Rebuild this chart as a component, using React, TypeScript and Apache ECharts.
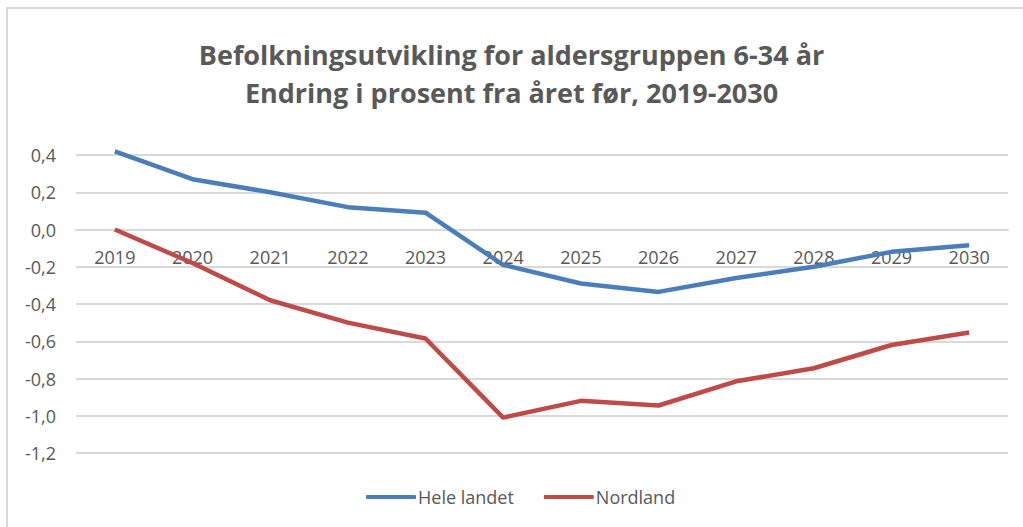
import React, { useEffect, useRef } from "react";
import * as echarts from "echarts";

const years = ["2019", "2020", "2021", "2022", "2023", "2024", "2025", "2026", "2027", "2028", "2029", "2030"];
const heleLandet = [0.42, 0.27, 0.2, 0.12, 0.09, -0.19, -0.29, -0.335, -0.26, -0.2, -0.12, -0.085];
const nordland = [0.0, -0.18, -0.38, -0.5, -0.585, -1.01, -0.92, -0.945, -0.815, -0.745, -0.62, -0.553];
const titleLines = ["Befolkningsutvikling for aldersgruppen 6-34 år", "Endring i prosent fra året før, 2019-2030"];

const FONT = "'Open Sans', 'Liberation Sans', sans-serif";
const TEXT = "#595959";
const GRID_TOP = 155;
const GRID_BOTTOM = 74;
const CHART_H = 527;

export default function App() {
  const ref = useRef<HTMLDivElement>(null);
  useEffect(() => {
    document.body.style.margin = "0";
    const chart = echarts.init(ref.current!, null, { renderer: "svg" });
    const yMin = -1.2;
    const yMax = 0.4;
    const plotH = CHART_H - GRID_TOP - GRID_BOTTOM;
    const zeroOffset = -(plotH * (0 - yMin)) / (yMax - yMin);
    chart.setOption({
      animation: false,
      backgroundColor: "#ffffff",
      title: {
        text: titleLines.join("\n"),
        left: "center",
        top: 30,
        textStyle: {
          fontFamily: FONT,
          fontWeight: "bold",
          fontSize: 27,
          color: TEXT,
          lineHeight: 38,
        },
      },
      graphic: [
        {
          type: "rect",
          shape: { x: 7, y: 8, width: 1100, height: 600 },
          style: { fill: "none", stroke: "#d9d9d9", lineWidth: 2 },
          silent: true,
        },
      ],
      legend: {
        bottom: 16,
        left: 361,
        itemWidth: 50,
        itemHeight: 4,
        itemGap: 30,
        icon: "roundRect",
        textStyle: { fontFamily: FONT, fontSize: 18, color: TEXT, padding: [0, 0, 0, -3] },
        data: ["Hele landet", "Nordland"],
      },
      grid: { left: 76, right: 15, top: GRID_TOP, bottom: GRID_BOTTOM, containLabel: false },
      xAxis: {
        type: "category",
        data: years,
        boundaryGap: true,
        offset: zeroOffset,
        axisLine: { onZero: false, lineStyle: { color: "#d9d9d9", width: 2 } },
        axisTick: { show: false },
        axisLabel: { fontFamily: FONT, fontSize: 18, color: TEXT, margin: 18 },
      },
      yAxis: {
        type: "value",
        min: yMin,
        max: yMax,
        interval: 0.2,
        axisLine: { show: false },
        axisTick: { show: false },
        splitLine: { lineStyle: { color: "#d9d9d9", width: 2 } },
        axisLabel: {
          fontFamily: FONT,
          fontSize: 18,
          color: TEXT,
          margin: 20,
          formatter: (v: number) => v.toFixed(1).replace(".", ","),
        },
      },
      series: [
        {
          name: "Hele landet",
          type: "line",
          data: heleLandet,
          symbol: "none",
          clip: false,
          lineStyle: { color: "#4a7ebb", width: 4.5 },
          itemStyle: { color: "#4a7ebb" },
          z: 3,
        },
        {
          name: "Nordland",
          type: "line",
          data: nordland,
          symbol: "none",
          clip: false,
          lineStyle: { color: "#be4b48", width: 4.5 },
          itemStyle: { color: "#be4b48" },
          z: 3,
        },
      ],
    });
    return () => chart.dispose();
  }, []);
  return <div ref={ref} style={{ width: 1023, height: 527 }} />;
}
